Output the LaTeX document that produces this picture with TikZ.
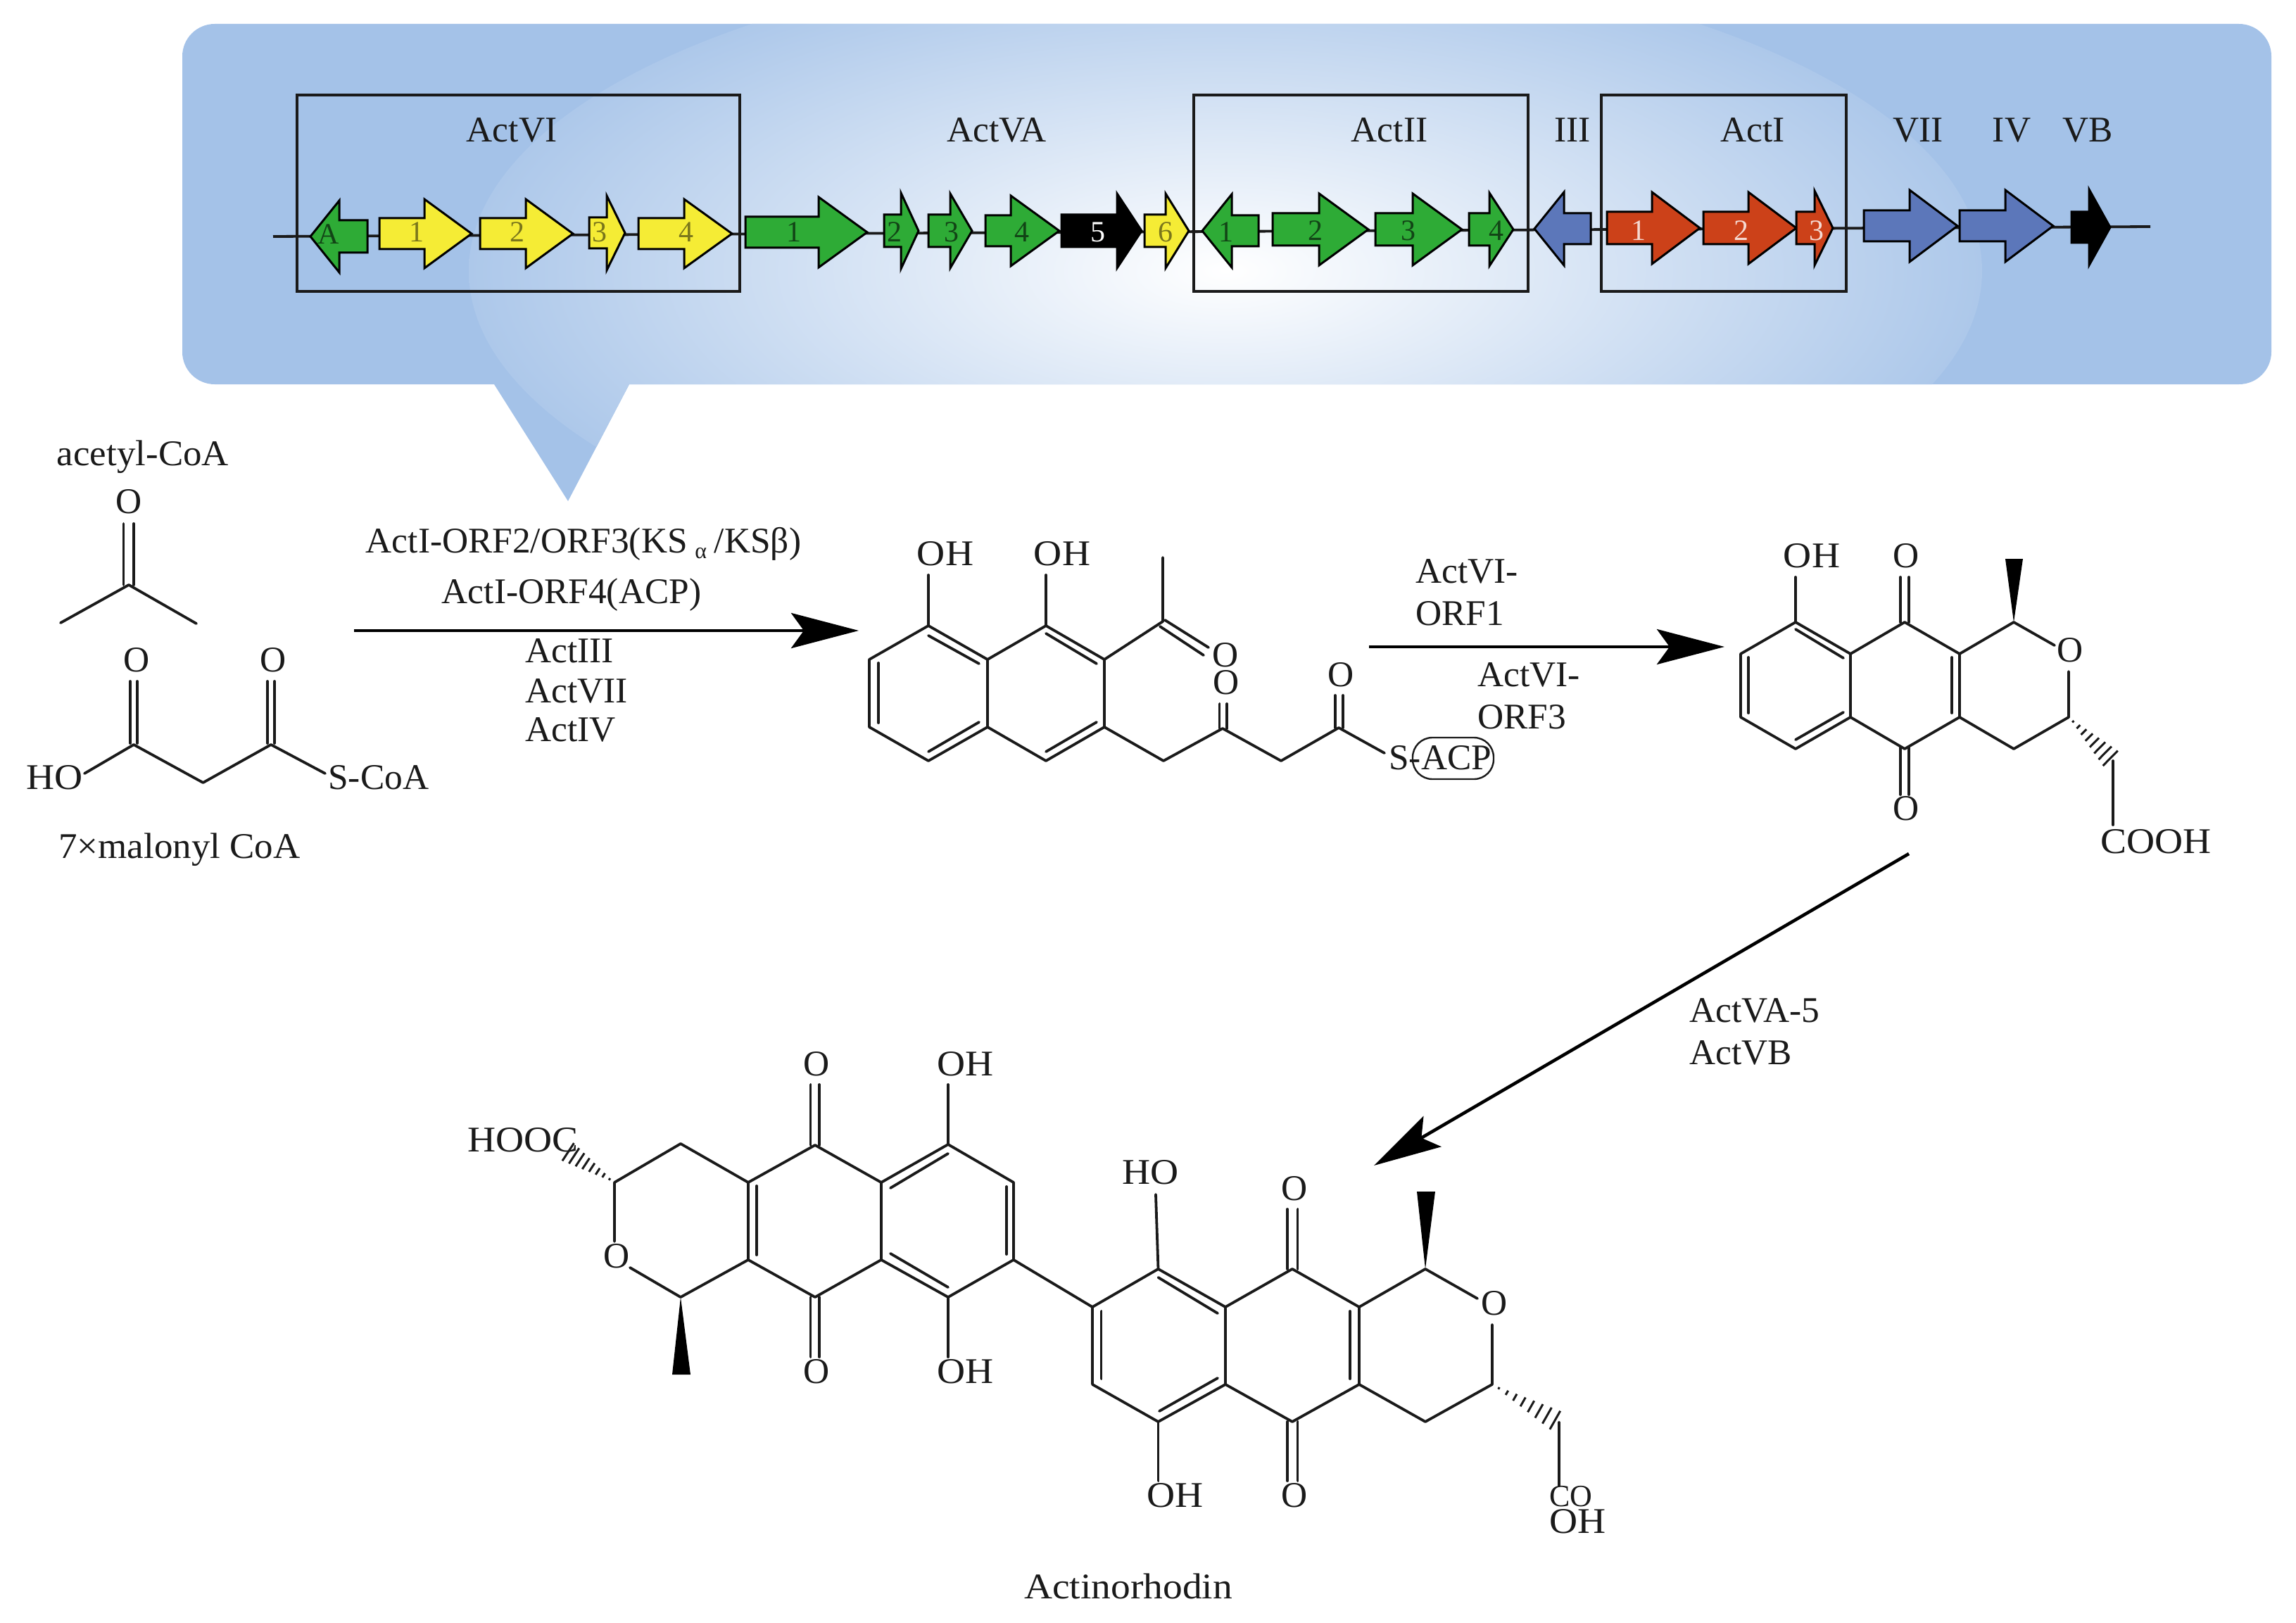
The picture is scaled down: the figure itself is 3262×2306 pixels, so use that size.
\documentclass[tikz,border=0pt]{standalone}
\usepackage{fontspec}
\setmainfont{Liberation Serif}
\newfontface\wideA{Liberation Serif}[FakeStretch=1.08]
\newfontface\wideB{Liberation Serif}[FakeStretch=1.03]
\usetikzlibrary{arrows.meta,calc}
\definecolor{bub}{HTML}{A4C2E8}
\definecolor{bubin}{HTML}{ADC8EA}
\definecolor{gGreen}{HTML}{2EAB36}
\definecolor{gYellow}{HTML}{F5EC35}
\definecolor{gBlue}{HTML}{5C77BA}
\definecolor{gRed}{HTML}{CC4119}
\definecolor{ink}{HTML}{1A1A1A}
\tikzset{
  txt/.style={font=\fontsize{25.7}{30}\selectfont,text=ink,inner sep=0pt,anchor=base},
  ltxt/.style={txt,anchor=base west},
  rtxt/.style={txt,anchor=base east},
  wtxt/.style={font=\fontsize{25.7}{30}\wideA,text=ink,inner sep=0pt,anchor=base},
  wltxt/.style={wtxt,anchor=base west},
  wrtxt/.style={wtxt,anchor=base east},
  vtxt/.style={font=\fontsize{25.7}{30}\wideB,text=ink,inner sep=0pt,anchor=base},
  bond/.style={line width=1.9pt,draw=ink,line cap=round,line join=round},
  box/.style={line width=1.7pt,draw=ink},
  chain/.style={line width=1.9pt,draw=ink},
  gene/.style={line width=1.5pt,draw=black,line join=miter},
  glab/.style={font=\fontsize{21}{24}\selectfont,inner sep=0pt},
  rxn/.style={line width=2.3pt,draw=black,-{Stealth[length=48pt,width=25pt,inset=9pt]}},
  wedge/.style={fill=black,draw=none},
}
\newcommand{\genearrow}[8]{%
  \draw[gene,fill=#8] (#2,{#5-#6}) -- (#3,{#5-#6}) -- (#3,{#5-#7}) -- (#4,#5) -- (#3,{#5+#7}) -- (#3,{#5+#6}) -- (#2,{#5+#6}) -- cycle;
  \coordinate (#1) at (#4,#5);}
\newcommand{\hashbond}[3]{% from, to, half width (pt) at the far end
  \foreach \t in {0.10,0.22,...,1.0}{
    \pgfmathsetmacro{\w}{#3*\t}
    \draw[line width=1.5pt,draw=ink] ($(#1)!\t!(#2)!\w pt!90:(#2)$) -- ($(#1)!\t!(#2)!-\w pt!90:(#2)$);
  }}
\newcommand{\dbl}[4]{\draw[bond] (#1) -- (#2); \draw[bond] (#3) -- (#4);}
\begin{document}
\begin{tikzpicture}[x=0.5pt,y=-0.5pt]
\useasboundingbox (0,0) rectangle (3262,2306);
% ---------- callout
\def\bubblepath{(1200,34) [rounded corners=23pt] -- (3227,34) -- (3227,546) [sharp corners] -- (894,546) -- (807,712) -- (702,546) [rounded corners=23pt] -- (259,546) -- (259,34) [sharp corners] -- cycle}
\fill[bub] \bubblepath;
\begin{scope}
  \clip \bubblepath;
  \shade[inner color=white,outer color=bubin] (1741,385) ellipse [x radius=537.5pt,y radius=225pt];
\end{scope}
% ---------- gene boxes
\draw[box] (422,135) rectangle (1051,414);
\draw[box] (1696,135) rectangle (2171,414);
\draw[box] (2275,135) rectangle (2623,414);
% ---------- chain
\coordinate (chainL) at (388,336);
\coordinate (chainR) at (3055,322);
\draw[chain] (chainL) -- (chainR);
% ---------- genes
\genearrow{vA}{522}{482}{441}{336}{23}{51}{gGreen}
\genearrow{v1}{539}{603}{670}{332}{22}{49}{gYellow}
\genearrow{v2}{682}{747}{814}{332}{22}{49}{gYellow}
\genearrow{v3}{837}{862}{888}{331}{22}{53}{gYellow}
\genearrow{v4}{907}{972}{1040}{332}{22}{49}{gYellow}
\genearrow{a1}{1059}{1163}{1232}{330}{22}{50}{gGreen}
\genearrow{a2}{1256}{1280}{1305}{328}{23}{54}{gGreen}
\genearrow{a3}{1319}{1350}{1381}{328}{23}{53}{gGreen}
\genearrow{a4}{1400}{1436}{1505}{328}{22}{50}{gGreen}
\genearrow{a5}{1508}{1587}{1622}{328}{23}{53}{black}
\genearrow{a6}{1626}{1656}{1689}{328}{23}{53}{gYellow}
\genearrow{b1}{1788}{1750}{1708}{328}{22}{52}{gGreen}
\genearrow{b2}{1808}{1874}{1944}{326}{23}{51}{gGreen}
\genearrow{b3}{1954}{2007}{2077}{326}{23}{51}{gGreen}
\genearrow{b4}{2087}{2116}{2150}{326}{23}{52}{gGreen}
\genearrow{c3}{2260}{2222}{2180}{325}{22}{52}{gBlue}
\genearrow{r1}{2283}{2347}{2415}{324}{23}{51}{gRed}
\genearrow{r2}{2420}{2484}{2552}{324}{23}{51}{gRed}
\genearrow{r3}{2552}{2578}{2604}{324}{23}{53}{gRed}
\genearrow{c7}{2648}{2713}{2781}{321}{22}{51}{gBlue}
\genearrow{c4}{2784}{2849}{2917}{321}{22}{51}{gBlue}
\genearrow{cB}{2943}{2968}{2998}{323}{22}{54}{black}
% gene numbers
\foreach \n/\x/\y/\l/\c in {lA/467/333/A/black!60!gGreen,l1/592/330/1/black!50!gYellow,l2/735/330/2/black!50!gYellow,l3/852/330/3/black!50!gYellow,l4/975/330/4/black!50!gYellow,
  m1/1128/330/1/black!60!gGreen,m2/1271/330/2/black!60!gGreen,m3/1352/330/3/black!60!gGreen,m4/1452/330/4/black!60!gGreen,m5/1560/330/5/white,m6/1656/330/6/black!50!gYellow,
  n1/1742/330/1/black!60!gGreen,n2/1869/328/2/black!60!gGreen,n3/2001/328/3/black!60!gGreen,n4/2126/328/4/black!60!gGreen,
  p1/2328/328/1/white!80!gRed,p2/2474/328/2/white!80!gRed,p3/2581/328/3/white!80!gRed}
  \node[glab,text=\c] (\n) at (\x,\y) {\l};
% gene titles
\node[txt] (tVI) at (727,202) {ActVI};
\node[txt] (tVA) at (1416,202) {ActVA};
\node[txt] (tII) at (1974,202) {ActII};
\node[txt] (tIII) at (2234,202) {III};
\node[txt] (tI) at (2490,202) {ActI};
\node[txt] (tVII) at (2725,202) {VII};
\node[txt] (tIV) at (2858,202) {IV};
\node[txt] (tVB) at (2966,202) {VB};
% ---------- acetyl-CoA
\node[vtxt] (acetyl) at (203,661) {acetyl-CoA};
\node[txt] (acO) at (183,729) {O};
\foreach \n/\x/\y in {ac/183/831,acA/86/885,acB/279/886,acd1/175.5/744,acd2/175.5/831,acd3/190/744,acd4/190/831}
  \coordinate (\n) at (\x,\y);
\draw[bond] (acA) -- (ac) -- (acB);
\dbl{acd1}{acd2}{acd3}{acd4}
% ---------- malonyl
\node[txt] (mO1) at (194,954) {O};
\node[txt] (mO2) at (388,954) {O};
\node[wrtxt] (mHO) at (118,1121) {HO};
\node[ltxt] (mS) at (466,1121) {S-CoA};
\node[vtxt] (mal) at (255,1219) {7×malonyl CoA};
\foreach \n/\x/\y in {m1c/190/1058,m2c/385/1058,mch/288.5/1112,mh/120/1099,ms/462/1099,
  md1/185/968,md2/185/1056,md3/195/968,md4/195/1056,md5/380/968,md6/380/1056,md7/390/968,md8/390/1056}
  \coordinate (\n) at (\x,\y);
\draw[bond] (mh) -- (m1c) -- (mch) -- (m2c) -- (ms);
\dbl{md1}{md2}{md3}{md4}
\dbl{md5}{md6}{md7}{md8}
% ---------- first arrow
\node[txt] (r1a) at (829,785) {ActI-ORF2/ORF3(KS{\fontsize{16}{16}\selectfont\,\,\raisebox{-0.25em}{α}\,\,}/KSβ)};
\node[txt] (r1b) at (812,857) {ActI-ORF4(ACP)};
\node[ltxt] (r1c) at (746,941) {ActIII};
\node[ltxt] (r1d) at (746,998) {ActVII};
\node[ltxt] (r1e) at (746,1053) {ActIV};
\coordinate (ar1s) at (503,896);
\coordinate (ar1e) at (1220,896);
\draw[rxn] (ar1s) -- (ar1e);
% ---------- intermediate 1
\foreach \n/\x/\y in {ia/1319/889,ib/1403/937,ic/1403/1033,id/1319/1081,ie/1235/1033,if/1235/937,
  ig/1486/889,ih/1569/937,ii/1569/1033,ij/1486/1081,ik/1652/883,iMe/1652/792,
  il/1653/1081,im/1737/1035,in/1820/1081,ip/1902/1034,iS/1967/1070,
  iOH1/1319/817,iOH2/1486/817,
  iab1/1319/903,iab2/1391/943,igh1/1486/900,igh2/1558/943,ief1/1248/942,ief2/1248/1027,
  icd1/1319/1068,icd2/1391/1026,iij1/1486/1068,iij2/1558/1026,
  ikd1/1717/920,ikd2/1710/931,ikd3/1655/881,ikd4/1648/890,
  imd1/1732.5/1000,imd2/1732.5/1035,imd3/1743/1000,imd4/1743/1035,
  ipd1/1897/988,ipd2/1897/1034,ipd3/1908/988,ipd4/1908/1034}
  \coordinate (\n) at (\x,\y);
\draw[bond] (if) -- (ia) -- (ib) -- (ic) -- (id) -- (ie) -- cycle;
\draw[bond] (ib) -- (ig) -- (ih) -- (ii) -- (ij) -- (ic);
\draw[bond] (ih) -- (ik) -- (iMe);
\draw[bond] (ii) -- (il) -- (im) -- (in) -- (ip) -- (iS);
\draw[bond] (iOH1) -- (ia);
\draw[bond] (iOH2) -- (ig);
\draw[bond] (iab1) -- (iab2);
\draw[bond] (igh1) -- (igh2);
\draw[bond] (ief1) -- (ief2);
\draw[bond] (icd1) -- (icd2);
\draw[bond] (iij1) -- (iij2);
\dbl{ikd1}{ikd3}{ikd2}{ikd4}
\dbl{imd1}{imd2}{imd3}{imd4}
\dbl{ipd1}{ipd2}{ipd3}{ipd4}
\node[wtxt] (iT1) at (1343,803) {OH};
\node[wtxt] (iT2) at (1509,803) {OH};
\node[txt] (iO1) at (1741,947) {O};
\node[txt] (iO2) at (1742,986) {O};
\node[txt] (iO3) at (1905,975) {O};
\node[ltxt] (iSACP) at (1973,1093) {S-ACP};
\node[draw=ink,line width=1.2pt,rounded corners=14pt,minimum width=57.5pt,minimum height=29.5pt,inner sep=0pt] (iBox) at (2064.5,1077.5) {};
% ---------- second arrow
\coordinate (ar2s) at (1945,919);
\coordinate (ar2e) at (2450,919);
\draw[rxn] (ar2s) -- (ar2e);
\node[ltxt] (r2a) at (2011,828) {ActVI-};
\node[ltxt] (r2b) at (2011,888) {ORF1};
\node[ltxt] (r2c) at (2099,975) {ActVI-};
\node[ltxt] (r2d) at (2099,1035) {ORF3};
% ---------- intermediate 2
\foreach \n/\x/\y in {ta/2551/884,tb/2629/929,tc/2629/1019,td/2551/1064,te/2473/1019,tf/2473/929,
  tg/2706/884,th/2784/929,ti/2784/1019,tj/2706/1064,tk/2861/884,tOa/2919/917,tOb/2939/954,tm/2939/1019,tn/2861/1064,
  tW1/2849/794,tW2/2874/794,tq/3002/1081,tr/3002/1172,tOH/2551/820,
  tab1/2551/894,tab2/2619/935,tef1/2484/934,tef2/2484/1013,tcd1/2551/1051,tcd2/2619/1012,thi1/2773/934,thi2/2773/1013,
  tgd1/2700/820,tgd2/2700/884,tgd3/2712/820,tgd4/2712/884,tjd1/2700/1062,tjd2/2700/1129,tjd3/2712/1062,tjd4/2712/1129}
  \coordinate (\n) at (\x,\y);
\draw[bond] (tf) -- (ta) -- (tb) -- (tc) -- (td) -- (te) -- cycle;
\draw[bond] (tb) -- (tg) -- (th) -- (ti) -- (tj) -- (tc);
\draw[bond] (th) -- (tk) -- (tOa);
\draw[bond] (tOb) -- (tm) -- (tn) -- (ti);
\draw[bond] (tq) -- (tr);
\draw[bond] (tOH) -- (ta);
\draw[bond] (tab1) -- (tab2);
\draw[bond] (tef1) -- (tef2);
\draw[bond] (tcd1) -- (tcd2);
\draw[bond] (thi1) -- (thi2);
\dbl{tgd1}{tgd2}{tgd3}{tgd4}
\dbl{tjd1}{tjd2}{tjd3}{tjd4}
\fill[wedge] (tk) -- (tW1) -- (tW2) -- cycle;
\hashbond{tm}{tq}{8}
\node[wtxt] (tT1) at (2574,806) {OH};
\node[txt] (tT2) at (2708,806) {O};
\node[txt] (tT3) at (2708,1165) {O};
\node[txt] (tT4) at (2941,940) {O};
\node[wltxt] (tT5) at (2984,1212) {COOH};
% ---------- third arrow
\coordinate (ar3s) at (2712,1213);
\coordinate (ar3e) at (1952,1656);
\draw[rxn] (ar3s) -- (ar3e);
\node[ltxt] (r3a) at (2400,1452) {ActVA-5};
\node[ltxt] (r3b) at (2400,1512) {ActVB};
% ---------- actinorhodin left half
\foreach \n/\x/\y in {La/873/1680,Lb/967/1625,Lc/1063/1680,Ld/1063/1790,Le/967/1843,LOa/873/1764,LOb/895/1801,
  Lf/1158/1627,Lg/1252/1680,Lh/1252/1790,Li/1158/1843,Lj/1347/1626,Lk/1440/1680,Ll/1440/1790,Lm/1347/1843,
  LW1/955/1953,LW2/981/1953,Lq/803/1634,
  Lcd1/1075/1685,Lcd2/1075/1783,Lgj1/1265/1688,Lgj2/1347/1639,Lkl1/1430/1686,Lkl2/1430/1782,Lhm1/1265/1781,Lhm2/1347/1829,
  LOH1/1347/1541,LOH2/1347/1928,
  Lfd1/1151.5/1541,Lfd2/1151.5/1627,Lfd3/1164/1541,Lfd4/1164/1627,
  Lid1/1151.5/1843,Lid2/1151.5/1928,Lid3/1164/1843,Lid4/1164/1928}
  \coordinate (\n) at (\x,\y);
\draw[bond] (LOa) -- (La) -- (Lb) -- (Lc) -- (Ld) -- (Le) -- (LOb);
\draw[bond] (Lc) -- (Lf) -- (Lg) -- (Lh) -- (Li) -- (Ld);
\draw[bond] (Lg) -- (Lj) -- (Lk) -- (Ll) -- (Lm) -- (Lh);
\draw[bond] (Lcd1) -- (Lcd2);
\draw[bond] (Lgj1) -- (Lgj2);
\draw[bond] (Lkl1) -- (Lkl2);
\draw[bond] (Lhm1) -- (Lhm2);
\draw[bond] (LOH1) -- (Lj);
\draw[bond] (LOH2) -- (Lm);
\dbl{Lfd1}{Lfd2}{Lfd3}{Lfd4}
\dbl{Lid1}{Lid2}{Lid3}{Lid4}
\fill[wedge] (Le) -- (LW1) -- (LW2) -- cycle;
\hashbond{La}{Lq}{8}
\node[wltxt] (LT1) at (664,1636) {HOOC};
\node[txt] (LT2) at (876,1801) {O};
\node[txt] (LT3) at (1160,1528) {O};
\node[txt] (LT4) at (1160,1965) {O};
\node[wltxt] (LT5) at (1331,1528) {OH};
\node[wltxt] (LT6) at (1331,1965) {OH};
% ---------- actinorhodin right half
\foreach \n/\x/\y in {Ra/1552/1857,Rb/1645.5/1803,Rc/1741/1857,Rd/1741/1967,Re/1645.5/2020,Rf/1552/1967,
  Rg/1836/1803,Rh/1931/1857,Ri/1931/1967,Rj/1836/2020,Rk/2025/1803,ROa/2099/1845,ROb/2120/1882,Rm/2120/1967,Rn/2025/2020,
  RW1/2013/1693,RW2/2039/1693,Rq/2215/2021,Rr/2215/2111,
  RHO/1642/1697,ROH/1645.5/2104,
  Rbc1/1645.5/1815,Rbc2/1730/1866,Raf1/1564.5/1863,Raf2/1564.5/1959,Rde1/1730/1958,Rde2/1647/2005,Rhi1/1918/1863,Rhi2/1918/1959,
  Rgd1/1829/1718,Rgd2/1829/1803,Rgd3/1843.5/1718,Rgd4/1843.5/1803,Rjd1/1829/2020,Rjd2/1829/2104,Rjd3/1843.5/2020,Rjd4/1843.5/2104}
  \coordinate (\n) at (\x,\y);
\draw[bond] (Ll) -- (Ra);
\draw[bond] (Rf) -- (Ra) -- (Rb) -- (Rc) -- (Rd) -- (Re) -- (Rf);
\draw[bond] (Rc) -- (Rg) -- (Rh) -- (Ri) -- (Rj) -- (Rd);
\draw[bond] (Rh) -- (Rk) -- (ROa);
\draw[bond] (ROb) -- (Rm) -- (Rn) -- (Ri);
\draw[bond] (Rq) -- (Rr);
\draw[bond] (RHO) -- (Rb);
\draw[bond] (ROH) -- (Re);
\draw[bond] (Rbc1) -- (Rbc2);
\draw[bond] (Raf1) -- (Raf2);
\draw[bond] (Rde1) -- (Rde2);
\draw[bond] (Rhi1) -- (Rhi2);
\dbl{Rgd1}{Rgd2}{Rgd3}{Rgd4}
\dbl{Rjd1}{Rjd2}{Rjd3}{Rjd4}
\fill[wedge] (Rk) -- (RW1) -- (RW2) -- cycle;
\hashbond{Rm}{Rq}{8}
\node[wltxt] (RT1) at (1594,1682) {HO};
\node[txt] (RT2) at (1839,1705) {O};
\node[txt] (RT3) at (1839,2141) {O};
\node[wltxt] (RT4) at (1629,2141) {OH};
\node[txt] (RT5) at (2123,1868) {O};
\node[ltxt,font=\fontsize{22}{26}\selectfont] (RT6) at (2201,2140) {CO};
\node[wltxt] (RT7) at (2201,2178) {OH};
\node[wtxt] (actin) at (1603,2271) {Actinorhodin};
\end{tikzpicture}
\end{document}
